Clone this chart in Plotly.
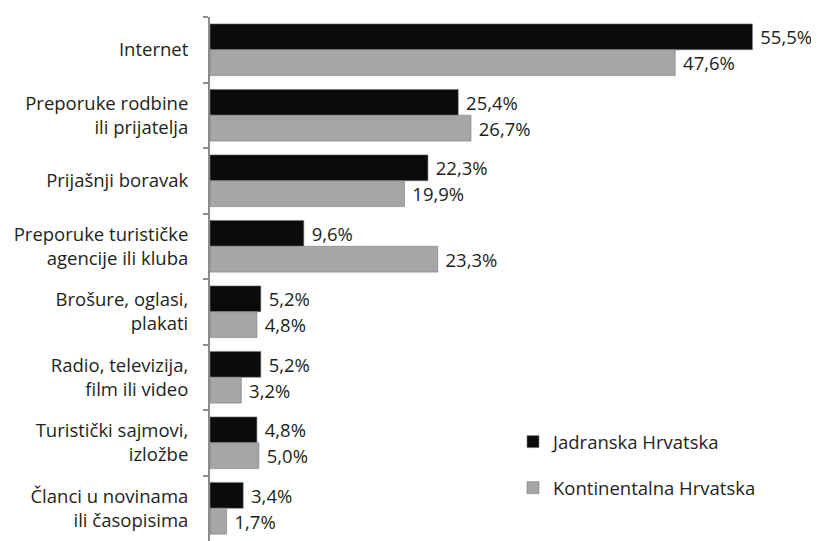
import plotly.graph_objects as go

categories = [
    "Internet",
    "Preporuke rodbine<br>ili prijatelja",
    "Prijašnji boravak",
    "Preporuke turističke<br>agencije ili kluba",
    "Brošure, oglasi,<br>plakati",
    "Radio, televizija,<br>film ili video",
    "Turistički sajmovi,<br>izložbe",
    "Članci u novinama<br>ili časopisima",
]
jadranska = [55.5, 25.4, 22.3, 9.6, 5.2, 5.2, 4.8, 3.4]
kontinentalna = [47.6, 26.7, 19.9, 23.3, 4.8, 3.2, 5.0, 1.7]
series_names = ["Jadranska Hrvatska", "Kontinentalna Hrvatska"]

def fmt(v):
    return " " + f"{v:.1f}".replace(".", ",") + "%"

FONT = "Open Sans"
TXT = "#231f20"

fig = go.Figure()
for name, vals, col, grp in [
    (series_names[0], jadranska, "#0b0b0b", "a"),
    (series_names[1], kontinentalna, "#a6a6a6", "b"),
]:
    fig.add_trace(go.Bar(
        y=categories, x=vals, orientation="h", name=name,
        marker=dict(color=col, line=dict(color="#7a7a7a", width=0.6)),
        text=[fmt(v) for v in vals], textposition="outside",
        textfont=dict(size=18.5, color=TXT, family=FONT),
        cliponaxis=False, legendgroup=grp,
    ))

fig.update_layout(
    width=819, height=541,
    margin=dict(l=202, r=11, t=9, b=8, autoexpand=False),
    barmode="group", bargap=0.21, bargroupgap=0.0,
    plot_bgcolor="white", paper_bgcolor="white",
    font=dict(family=FONT, size=18.5, color=TXT),
    showlegend=True,
    legend=dict(x=0.5, y=0.225, xanchor="left", yanchor="top",
                traceorder="grouped", tracegroupgap=19,
                font=dict(size=18.5, color=TXT), itemwidth=30,
                bgcolor="rgba(0,0,0,0)"),
)
fig.update_xaxes(range=[0, 62], visible=False, showgrid=False)
fig.update_yaxes(
    autorange="reversed", type="category", showgrid=False,
    showline=True, linecolor="#8c8c8c", linewidth=2,
    ticks="outside", tickson="boundaries", ticklen=5, tickcolor="#8c8c8c",
    tickwidth=1.5, ticklabelstandoff=16,
    tickfont=dict(size=18.5, color=TXT, family=FONT),
)
fig.write_html("out.html")
